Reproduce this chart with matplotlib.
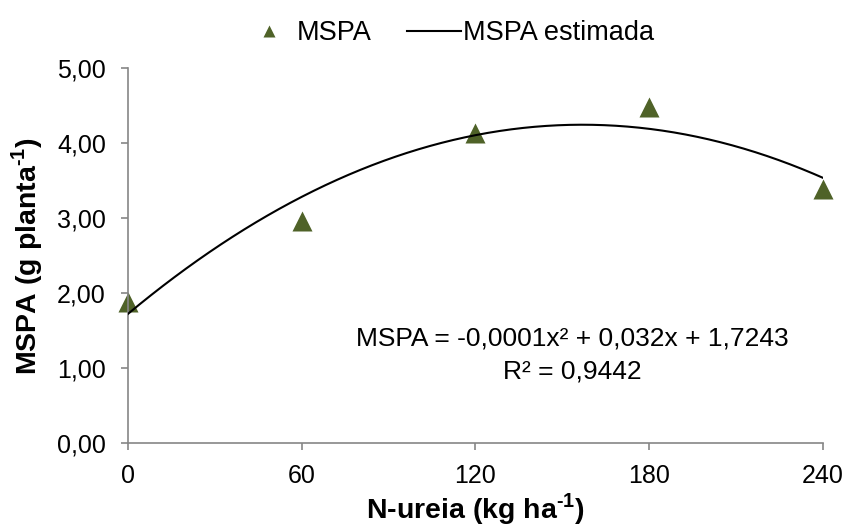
import numpy as np
import matplotlib.pyplot as plt

plt.rcParams['font.family'] = 'Liberation Sans'
plt.rcParams['mathtext.fontset'] = 'custom'
plt.rcParams['mathtext.rm'] = 'Liberation Sans'
plt.rcParams['mathtext.bf'] = 'Liberation Sans:bold'

# data
dose = [0, 60, 120, 180, 240]           # N-ureia (kg ha-1)
mspa = [1.88, 2.96, 4.13, 4.48, 3.39]   # MSPA (g planta-1)
x_ticks = [0, 60, 120, 180, 240]
y_ticks = [0, 1, 2, 3, 4, 5]
eq_line = "MSPA = -0,0001x\u00b2 + 0,032x + 1,7243"
r2_line = "R\u00b2 = 0,9442"

# quadratic fit of the points -> "MSPA estimada"
coef = np.polyfit(dose, mspa, 2)
xs = np.linspace(0, 240, 300)
ys = np.polyval(coef, xs)

gray = '#868686'
olive = '#4F6228'

fig = plt.figure(figsize=(8.48, 5.28), dpi=100)
ax = fig.add_axes([0.151, 0.161, 0.819, 0.710])

pts, = ax.plot(dose, mspa, '^', ms=15, mfc=olive, mec='none', zorder=2, label='MSPA')
fit, = ax.plot(xs, ys, color='black', lw=1.5, zorder=3, label='MSPA estimada')

ax.set_xlim(0, 240)
ax.set_ylim(0, 5)
ax.set_xticks(x_ticks)
ax.set_yticks(y_ticks)
ax.set_yticklabels([f"{v:.2f}".replace('.', ',') for v in y_ticks])
ax.set_xticklabels([str(v) for v in x_ticks])

for s in ['top', 'right']:
    ax.spines[s].set_visible(False)
for s in ['left', 'bottom']:
    ax.spines[s].set_color(gray)
    ax.spines[s].set_linewidth(1.2)
ax.tick_params(axis='both', direction='out', length=5, width=1.2, color=gray,
               labelsize=18, labelcolor='black')
ax.tick_params(axis='y', pad=11)
ax.tick_params(axis='x', pad=10)
pts.set_clip_on(False)

ax.set_xlabel('N-ureia (kg ha$^{\\mathdefault{\u20101}}$)', fontsize=20.5, fontweight='bold')
ax.set_ylabel('MSPA (g planta$^{\\mathdefault{\u20101}}$)', fontsize=20.5, fontweight='bold')
ax.xaxis.label.set_verticalalignment('baseline')
ax.yaxis.label.set_verticalalignment('baseline')
ax.xaxis.set_label_coords(0.5, -0.2)
ax.yaxis.set_label_coords(-0.132, 0.5)

ax.text(153.4, 1.39, eq_line, ha='center', va='center', fontsize=19)
ax.text(153.4, 0.96, r2_line, ha='center', va='center', fontsize=19)

fig.legend(handles=[pts, fit], labels=['MSPA', 'MSPA estimada'], loc='center',
           bbox_to_anchor=(0.528, 0.937), ncol=2, frameon=False, fontsize=19.5,
           handlelength=2, handletextpad=0.05, columnspacing=1.3, markerscale=0.6)

fig.savefig('out.png', dpi=100)
